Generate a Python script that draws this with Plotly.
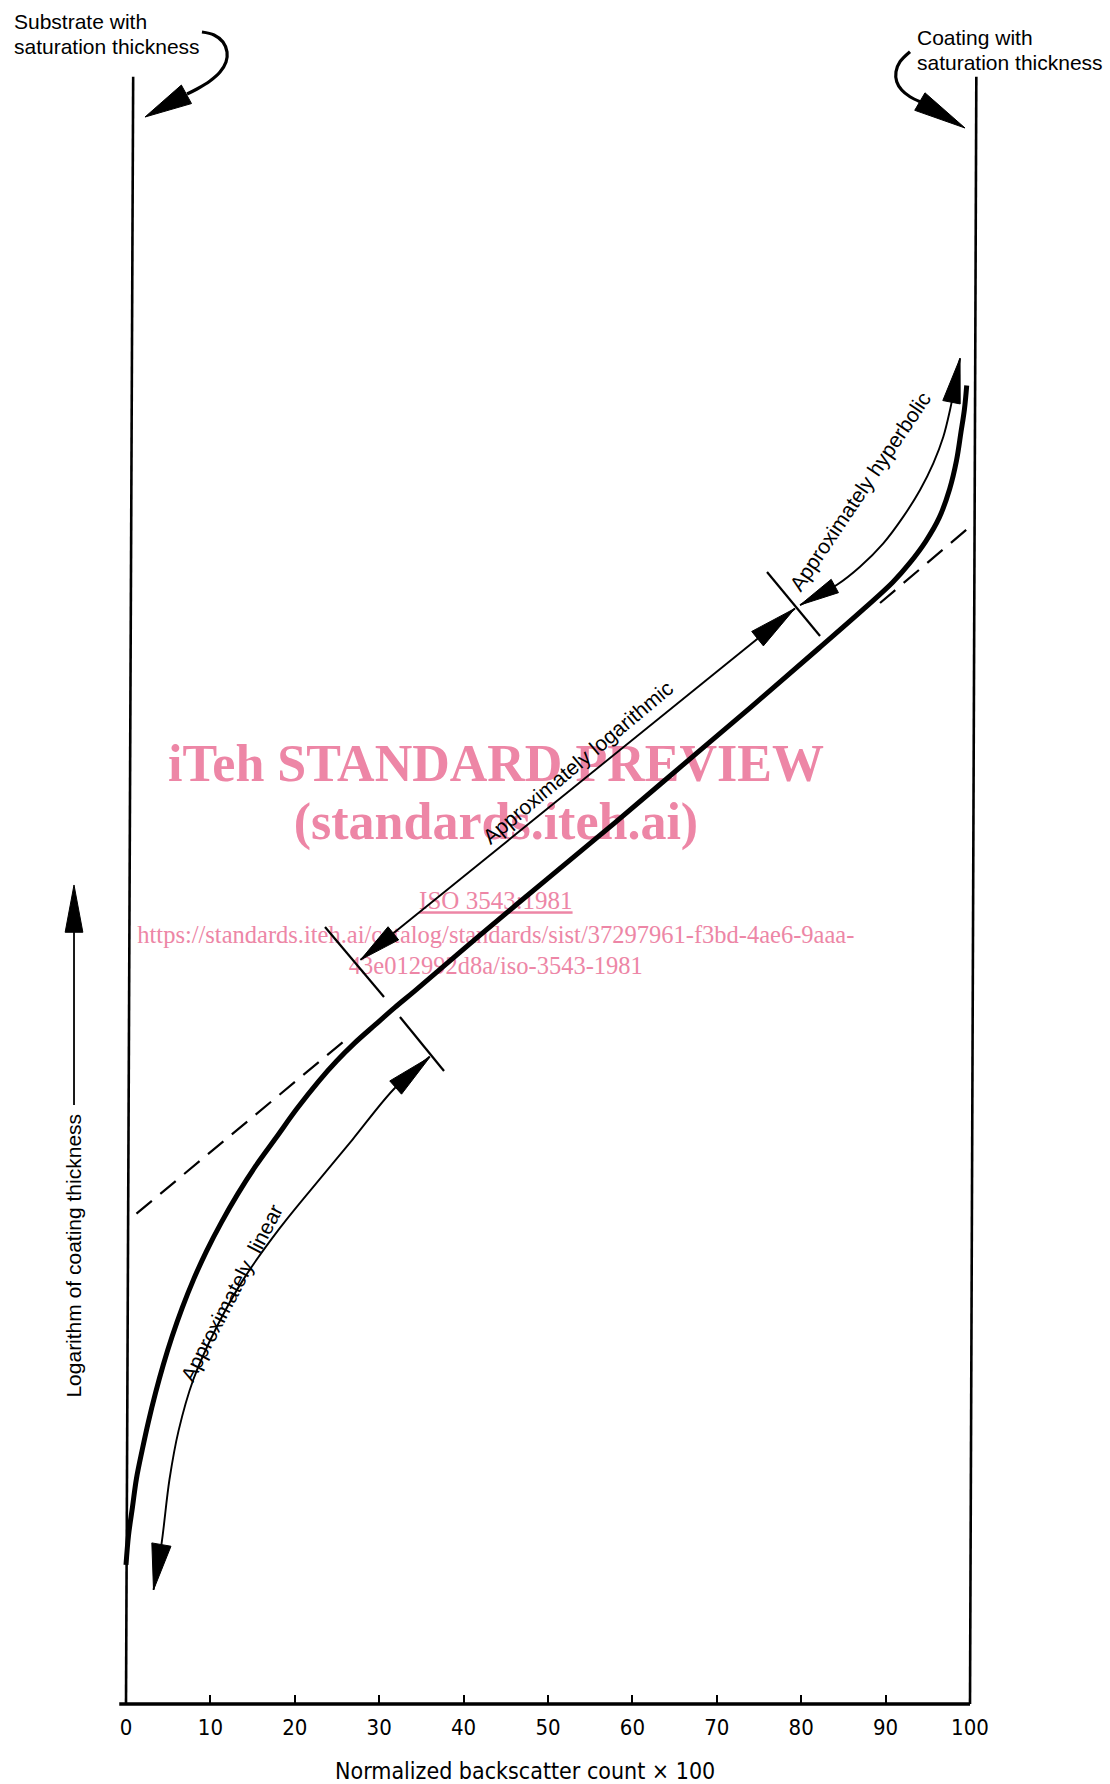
import math
import plotly.graph_objects as go

# ---------------- data ----------------
# x: normalized backscatter count x 100 ; y: log of coating thickness (arbitrary units)
x_ticks = [0, 10, 20, 30, 40, 50, 60, 70, 80, 90, 100]
x_tick_labels = ["0", "10", "20", "30", "40", "50", "60", "70", "80", "90", "100"]

curve_x = [0.0, 0.30, 0.77, 1.24, 1.92, 2.66, 3.49, 4.42, 5.47, 6.66, 8.01, 9.54, 11.29,
           13.23, 15.39, 17.82, 20.24, 22.80, 24.96, 27.11, 29.54, 31.83, 34.26, 41.67,
           49.89, 57.84, 65.92, 74.01, 82.09, 87.48, 90.85, 92.87, 94.76, 96.37, 97.59,
           98.40, 98.93, 99.34, 99.61]
curve_y = [16.48, 19.99, 23.36, 26.72, 30.09, 33.46, 36.83, 40.20, 43.57, 46.94, 50.31,
           53.67, 57.04, 60.41, 63.78, 67.15, 70.52, 73.75, 76.18, 78.33, 80.49, 82.51,
           84.53, 90.87, 97.74, 104.34, 111.21, 118.09, 125.09, 129.81, 132.91, 135.20,
           137.76, 140.59, 143.96, 147.33, 150.69, 153.39, 156.22]

dash_low_x = [1.24, 25.9]
dash_low_y = [58.1, 78.6]
dash_high_x = [89.34, 100.0]
dash_high_y = [130.45, 139.5]

left_wall_x = [0.0, 0.85]
right_wall_x = [100.0, 100.75]
wall_y = [0.0, 192.8]

axis_line_x = [-0.8, 100.0]
axis_line_y = [0.0, 0.0]

linear_x = [35.99, 31.69, 26.84, 22.93, 18.22, 13.91, 10.67, 7.98, 6.23, 5.15, 4.20, 3.26]
linear_y = [76.72, 72.81, 66.88, 62.17, 56.38, 50.31, 44.52, 38.45, 32.39, 26.60, 18.92, 13.52]

log_x = [27.79, 79.26]
log_y = [88.17, 129.81]

hyper_x = [79.86, 84.20, 86.97, 89.73, 92.10, 94.08, 95.65, 96.84, 97.63, 98.82]
hyper_y = [130.21, 132.58, 134.75, 137.52, 140.68, 143.84, 147.0, 150.15, 153.32, 159.44]

markers = [  # boundary strokes between regions
    ([23.58, 30.57], [92.06, 83.77]),
    ([32.46, 37.68], [81.40, 75.00]),
    ([75.95, 82.23], [134.12, 126.54]),
]

curl_left_x = [9.00, 10.43, 11.49, 11.97, 11.85, 11.14, 9.95, 8.41, 7.23]
curl_left_y = [198.10, 197.75, 196.92, 195.73, 194.55, 193.36, 192.30, 191.35, 190.76]
curl_right_x = [92.89, 91.71, 91.23, 91.32, 91.91, 92.89, 94.08]
curl_right_y = [195.77, 194.58, 193.40, 192.22, 191.23, 190.43, 189.85]

ylabel_line_x = [-6.16, -6.16]
ylabel_line_y = [70.97, 95.0]

# arrowheads: tip, point it comes from, length, half width
heads = [
    ((3.26, 13.52), (4.20, 18.92), 5.45, 1.15),
    ((36.02, 76.66), (31.69, 72.81), 5.45, 1.05),
    ((27.79, 88.17), (79.26, 129.81), 5.0, 1.0),
    ((79.26, 129.81), (27.79, 88.17), 5.7, 1.1),
    ((79.86, 130.21), (84.20, 132.58), 4.7, 0.9),
    ((98.82, 159.44), (97.63, 153.32), 5.3, 1.05),
    ((-6.16, 97.04), (-6.16, 80.0), 5.6, 1.05),
    ((2.25, 188.03), (7.23, 190.76), 5.6, 1.25),
    ((99.41, 186.73), (94.08, 189.85), 6.2, 1.2),
]

wm_color = "rgb(237,134,166)"
wm_lines = ["<b>iTeh STANDARD PREVIEW</b>", "<b>(standards.iteh.ai)</b>", "<u>ISO 3543:1981</u>",
            "https://standards.iteh.ai/catalog/standards/sist/37297961-f3bd-4ae6-9aaa-",
            "43e012992d8a/iso-3543-1981"]
wm_x = [43.83, 43.83, 43.82, 43.82, 43.82]
wm_y = [110.9, 104.0, 94.9, 90.9, 87.2]
wm_size = [52, 52, 25, 24.5, 24.5]

# ---------------- figure ----------------
W, H = 1110, 1784
PX = 8.44
X0, Y0 = 126.0, 1704.0
xr = [-X0 / PX, (W - X0) / PX]
yr = [(Y0 - H) / PX, Y0 / PX]

fig = go.Figure()

# watermark (under everything)
for t, x, y, s in zip(wm_lines, wm_x, wm_y, wm_size):
    fig.add_trace(go.Scatter(x=[x], y=[y], mode="text", text=[t], textposition="middle center",
                             textfont=dict(family="Liberation Serif, Times New Roman, serif",
                                           size=s, color=wm_color),
                             hoverinfo="skip", showlegend=False))

def line(xs, ys, w, dash=None, smooth=True):
    fig.add_trace(go.Scatter(x=xs, y=ys, mode="lines",
                             line=dict(color="black", width=w, dash=dash,
                                       shape="spline" if smooth else "linear",
                                       smoothing=1.0),
                             hoverinfo="skip", showlegend=False))

line(left_wall_x, wall_y, 2.6, smooth=False)
line(right_wall_x, wall_y, 2.6, smooth=False)
line(axis_line_x, axis_line_y, 3.5, smooth=False)
line(dash_low_x, dash_low_y, 2.2, "20px,11px", smooth=False)
line(dash_high_x, dash_high_y, 2.2, "20px,11px", smooth=False)
line(curve_x, curve_y, 5)
line(linear_x, linear_y, 1.9)
line(log_x, log_y, 1.9, smooth=False)
line(hyper_x, hyper_y, 1.9)
for mx, my in markers:
    line(mx, my, 2.2, smooth=False)
line(curl_left_x, curl_left_y, 3.2)
line(curl_right_x, curl_right_y, 3.2)
line(ylabel_line_x, ylabel_line_y, 1.8, smooth=False)

for tip, frm, L, hw in heads:
    dx, dy = tip[0] - frm[0], tip[1] - frm[1]
    n = math.hypot(dx, dy)
    ux, uy = dx / n, dy / n
    bx, by = tip[0] - L * ux, tip[1] - L * uy
    px, py = -uy, ux
    fig.add_trace(go.Scatter(
        x=[tip[0], bx + hw * px, bx - hw * px, tip[0]],
        y=[tip[1], by + hw * py, by - hw * py, tip[1]],
        mode="lines", fill="toself", fillcolor="black",
        line=dict(color="black", width=1), hoverinfo="skip", showlegend=False))

sans = "Liberation Sans, Arial, Helvetica, sans-serif"
narrow = "Liberation Sans Narrow, Arial Narrow, DejaVu Sans Condensed, Liberation Sans, sans-serif"

def note(text, x, y, angle=0, size=21, xanchor="center", family=sans):
    fig.add_annotation(x=x, y=y, text=text, showarrow=False, textangle=angle,
                       xanchor=xanchor, yanchor="middle",
                       font=dict(family=family, size=size, color="black"))

note("Substrate with", -13.5, 199.3, xanchor="left")
note("saturation thickness", -13.5, 196.4, xanchor="left")
note("Coating with", 93.48, 197.4, xanchor="left")
note("saturation thickness", 93.48, 194.5, xanchor="left")
note("Approximately  linear", 12.56, 48.7, angle=-62.5)
note("Approximately logarithmic", 53.5, 111.5, angle=-40)
note("Approximately hyperbolic", 86.97, 143.64, angle=-56)
note("Logarithm of coating thickness", -6.16, 53.13, angle=-90)
note("Normalized backscatter count \u00d7 100", 47.3, -7.94, size=23, family=narrow)

fig.update_layout(
    width=W, height=H, autosize=False,
    margin=dict(l=0, r=0, t=0, b=0),
    paper_bgcolor="white", plot_bgcolor="white",
    showlegend=False,
    xaxis=dict(range=xr, showgrid=False, zeroline=False, showline=False,
               anchor="free", position=(0 - yr[0]) / (yr[1] - yr[0]),
               tickmode="array", tickvals=x_ticks, ticktext=x_tick_labels,
               ticks="inside", ticklen=9, tickwidth=2, tickcolor="black",
               ticklabelstandoff=8,
               tickfont=dict(family=narrow, size=22, color="black"),
               fixedrange=True),
    yaxis=dict(range=yr, visible=False, fixedrange=True),
)

fig.write_html("out.html", config={"displayModeBar": False},
               post_script="document.body.style.margin='0';document.body.style.overflow='hidden';")
